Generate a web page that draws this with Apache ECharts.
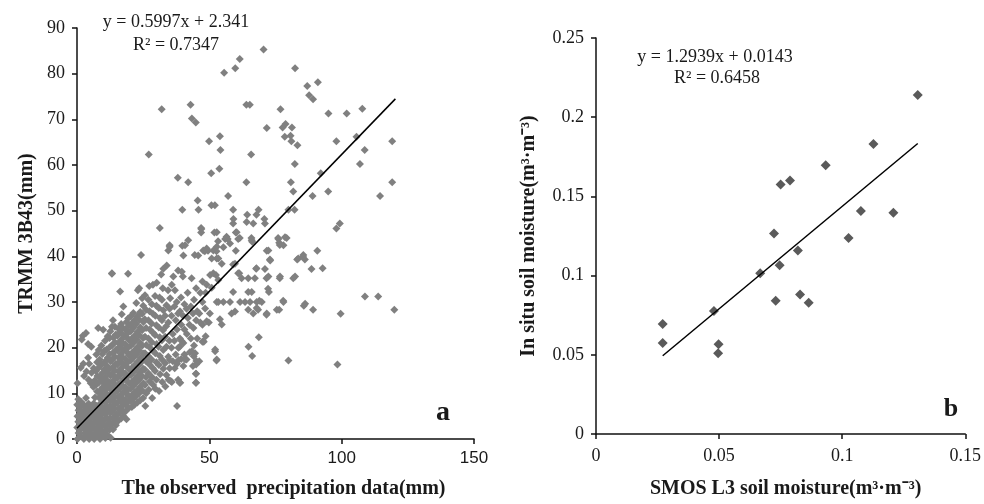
<!DOCTYPE html>
<html><head><meta charset="utf-8">
<script src="https://cdn.jsdelivr.net/npm/echarts@6/dist/echarts.min.js"></script>
<style>html,body{margin:0;padding:0;background:#fff}#c{width:984px;height:504px}</style>
</head><body><div id="c"></div>
<script>
// Panel a: observed precipitation (mm) vs TRMM 3B43 (mm)
const precipDense = [
[0.2,0],[0.6,1.3],[0.1,2.5],[0.5,3.8],[0.2,5],[0.6,6.3],[0.1,7.5],[0.5,8.7],[0.2,12.2],
[1.5,0.6],[1.1,1.9],[1.6,3.1],[1.2,4.4],[1.7,5.6],[1.2,6.9],[1.6,8.1],[1.4,15.6],[1.8,21.8],
[2.6,0],[3,1.3],[2.5,2.5],[2.9,3.8],[2.4,5],[2.9,6.3],[2.5,7.5],[2.7,13.8],[2.4,16.5],[2.2,22.6],
[3.6,0.6],[3.9,1.9],[3.4,3.1],[3.8,4.4],[3.5,5.6],[3.9,6.9],[3.4,9],[3.6,14.8],[3.4,23.2],
[4.6,0],[4.9,1.3],[4.4,2.5],[4.8,3.8],[4.3,5],[4.8,6.3],[4.4,7.7],[4.4,13],[4.6,16.5],[4.2,17.8],[4.2,20.8],
[5.6,0.7],[5.3,2],[5.7,3.2],[5.2,4.5],[5.6,5.8],[5.3,7.1],[5.2,12.2],[5.5,14.5],[5.4,20.2],
[6.5,0],[6.9,1.3],[6.3,2.6],[6.8,3.9],[6.4,5.2],[6.9,6.5],[6.3,7.8],[6.8,9.1],[6.2,11.4],[6.7,12.8],[6.3,15.5],[7.3,18.5],
[7.6,0.6],[7.2,2],[7.7,3.3],[7.3,4.6],[7.8,5.9],[7.4,7.2],[7.6,10.4],[7.2,11.9],[7.7,13.8],[7.2,14.9],[7.6,16.8],
[8.7,0],[8.3,1.3],[8.8,2.6],[8.2,3.9],[8.7,5.2],[8.3,6.5],[8.8,7.8],[8.3,9.1],[8.7,10.6],[8.2,12.3],[8.6,13.7],[8.2,15.6],[8.6,17.4],[8.2,19.5],[8,24.3],
[9.6,0.6],[9.2,2],[9.7,3.3],[9.2,4.6],[9.6,5.9],[9.2,7.2],[9.7,8.5],[9.2,9.9],[9.6,11.3],[9.2,12.9],[9.7,14.5],[9.2,16.3],[9.6,18.6],[9.2,20.5],[9.9,23.9],
[10.7,0.2],[10.3,1.5],[10.8,2.8],[10.3,4.1],[10.7,5.4],[10.3,6.7],[10.8,8],[10.3,9.3],[10.7,10.6],[10.3,12.1],[10.7,13.6],[10.3,15.2],[10.7,17],[10.3,19.3],[10.6,21.5],
[11.6,0.8],[11.2,2.1],[11.7,3.4],[11.2,4.7],[11.6,6],[11.2,7.3],[11.7,8.6],[11.2,9.9],[11.6,11.4],[11.2,12.9],[11.7,14.5],[11.2,16.1],[11.6,17.8],[11.2,19.6],[11.6,22.5],
[12.7,0.3],[12.3,2],[12.8,3.2],[12.3,4.5],[12.7,5.8],[12.3,7.1],[12.8,8.4],[12.3,9.7],[12.7,11],[12.3,12.4],[12.7,13.9],[12.3,15.4],[12.7,17],[12.3,18.6],[12.7,20.3],[12.3,22.1],[12.6,23.6],
[13.6,2.1],[13.2,3.4],[13.7,4.7],[13.2,6],[13.6,7.3],[13.2,8.6],[13.7,9.9],[13.2,11.3],[13.6,12.7],[13.2,14.2],[13.7,15.8],[13.2,17.3],[13.6,18.9],[13.2,20.5],[13.7,22.2],[13.2,24.6],[13.6,26],[13.2,36.2],
[14.7,3],[14.3,4.2],[14.8,5.4],[14.3,6.7],[14.7,8],[14.3,9.3],[14.8,10.6],[14.3,12],[14.7,13.5],[14.3,15],[14.7,16.5],[14.3,18],[14.8,19.6],[14.3,21.2],[14.7,22.9],[14.3,24.6],
[15.6,4],[15.2,5.3],[15.7,6.6],[15.2,7.9],[15.6,9.2],[15.2,10.5],[15.7,11.9],[15.2,13.3],[15.6,14.8],[15.2,16.3],[15.7,17.8],[15.2,19.4],[15.6,21],[15.2,22.6],[15.6,24.2],
[16.7,4.5],[16.3,5.8],[16.8,7.1],[16.3,8.4],[16.7,9.7],[16.3,11.1],[16.8,12.5],[16.3,14],[16.7,15.5],[16.3,17],[16.7,18.6],[16.3,20.2],[16.8,21.8],[16.3,23.4],[16.7,25.2],[16.9,27.3],[16.3,32.3],
[17.6,5],[17.2,6.3],[17.7,7.6],[17.2,8.9],[17.6,10.3],[17.2,11.7],[17.7,13.2],[17.2,14.7],[17.6,16.3],[17.2,17.9],[17.7,19.5],[17.2,21.1],[17.6,22.7],[17.2,24.4],[17.5,29],
[18.7,4.3],[18.3,6],[18.8,7.3],[18.3,8.6],[18.7,9.9],[18.3,11.3],[18.8,12.8],[18.3,14.3],[18.7,15.9],[18.3,17.5],[18.8,19.1],[18.3,20.7],[18.7,22.3],[18.3,24],[18.7,25.6],
[19.6,6.8],[19.2,8.1],[19.7,9.4],[19.2,10.8],[19.6,12.2],[19.2,13.7],[19.7,15.2],[19.2,16.8],[19.6,18.4],[19.2,20],[19.7,21.6],[19.2,23.2],[19.6,24.8],[19.3,36.2],[19.3,26.4],
[20.7,7],[20.3,8.3],[20.8,9.6],[20.3,11],[20.7,12.5],[20.3,14],[20.8,15.6],[20.3,17.2],[20.7,18.8],[20.3,20.4],[20.7,22],[20.3,23.6],[20.7,25.3],[20.3,26.9],
[21.7,7.5],[21.3,8.8],[21.8,10.2],[21.3,11.6],[21.7,13.1],[21.3,14.6],[21.8,16.2],[21.3,17.8],[21.7,19.4],[21.3,21],[21.8,22.6],[21.3,24.3],[21.7,26],[21.3,27.6],
[22.8,8],[22.4,9.4],[22.9,10.8],[22.4,12.3],[22.8,13.8],[22.4,15.3],[22.9,16.9],[22.4,18.5],[22.8,20.1],[22.4,21.8],[22.9,23.5],[22.4,25.2],[22.8,26.9],[23,32.6],[22.4,29.8],
[23.9,8.5],[23.5,10],[24,11.5],[23.5,13],[23.9,14.6],[23.5,16.2],[24,17.8],[23.5,19.4],[23.9,21],[23.5,22.7],[24,24.4],[23.5,26.1],[23.9,27.8],[23.5,33],[24.2,40.3],
[25,9],[24.6,10.6],[25.1,12.2],[24.6,13.8],[25,15.4],[24.6,17],[25.1,18.7],[24.6,20.4],[25,22.1],[24.6,23.8],[25.1,25.6],[24.6,27.4],[25,29.2],[24.6,30.8],
[25.8,7.2],[26.2,10],[25.7,11.8],[26.1,13.5],[25.6,15.2],[26.1,17],[25.7,18.8],[26.2,20.6],[25.7,22.4],[26.1,24.3],[25.6,26.2],[26.1,28.3],[25.7,31.5],
[27.1,10.8],[27.5,12.6],[27,14.4],[27.4,16.3],[26.9,18.2],[27.4,20.1],[27,22],[27.5,24],[27,26],[27.4,28],[27,30.5],[27.3,33.5],
[28.4,9],[28.8,11.8],[28.3,13.6],[28.7,15.5],[28.2,17.4],[28.7,19.3],[28.3,21.2],[28.8,23.2],[28.2,25.3],[28.7,27.4],[28.3,29.5],[28.7,33.8],
[29.6,11],[30,13],[29.5,14.9],[30,16.8],[29.6,18.8],[30.1,20.8],[29.5,22.8],[30,24.9],[29.6,27],[30,29.2],[29.5,31.3],[30.1,34.2],
[31,10.5],[31.4,14.2],[30.9,16.2],[31.3,18.2],[30.8,20.2],[31.3,22.3],[30.9,24.4],[31.4,26.5],[30.9,28.7],[31.2,31],[31.3,46.2],
[32.2,12.5],[32.6,15.4],[32.1,17.4],[32.6,19.5],[32.1,21.6],[32.5,23.8],[32.1,26],[32.6,28.2],[32.1,30.5],[32.4,33],[31.8,36],
[33.4,11.5],[33.8,14],[33.3,16.6],[33.8,20.2],[33.3,22.4],[33.7,24.7],[33.3,27],[33.8,29.3],[32.6,37.3],[33.9,38],
[34.6,13],[35,15.5],[34.5,18],[34.9,21.5],[34.5,25.5],[35,28.5],[34.4,32.6],[34.5,41.3],[35,42.4],[35.2,30.8],
[35.8,12.5],[36.2,17],[35.7,20],[36.2,23],[35.7,27],[35.8,33.8],[36.4,35.6],
[36.9,15.5],[37.3,18.5],[36.8,21.5],[37.3,26],[36.8,29],[37,32.6],[38.2,36.9],
[37.8,7.2],[38.2,13],[37.8,16.5],[38.3,20],[37.8,24],[38.2,27.5],[37.7,30],
[39,12.3],[39.4,17.5],[38.9,22],[39.4,25],[38.9,28],[39.3,31],[39.6,36.6],[40,35.6],
[40.2,16],[40.6,18.5],[40.2,21],[40.6,24],[40.1,27],[40.6,29.5],[40.2,40.2],[40.8,42.4],[42,43.5],
[41.4,17.4],[40.8,17.4],[41.5,23],[41.9,26.5],[41.4,28.5],[41.8,32],
[42.6,19],[43,22],[42.5,25],[43,29],[43.3,35.2],
[43.8,16],[44.2,20.5],[44,24.3],[43.8,27.5],[44.2,30.5],
[45,12.3],[45,14.3],[45,16.3],[44.6,18.8],[45.4,22],[45,26],[45.4,28],[45,33],
[46.2,17],[46.6,25.5],[46.2,27.5],[46.6,32],[45.8,40.2],
[47.4,21.3],[47.7,21.4],[47.4,25],[48.4,28.6],[47.4,30],[47.4,34.5],[47.7,41.3],[47,46],
[48.6,22.5],[49,25.8],[48.6,32],[49,41.7],[49,33.8],
[49.8,25.5],[50.2,27.5],[50.3,35.9],[50.9,33.1],[50.9,39.5],[51.5,41.3],[51.5,36.3]
];
const precipSparse = [
[27.1,62.3],[32,72.2],[42.9,73.2],[43.4,70.2],[44.9,69.3],[55.6,80.2],[59.8,81.2],[61.5,83.2],[70.5,85.3],
[64,73.2],[65.3,73.2],[82.4,81.2],[87,77.3],[91,78.1],[87.7,75.3],[89.2,74.4],[95,71.3],[101.9,71.3],[107.8,72.3],
[76.9,72.2],[71.7,68.1],[77.7,68.2],[78.8,69],[81.2,68.2],[78.5,66.2],[80.7,66.4],[81,65.2],[83.3,64.3],
[98,65.2],[105.6,66.2],[119.1,65.2],[108.7,63.3],[106.9,60.2],[82.3,60.2],[92.1,58.2],[49.9,65.2],[54,66.3],
[54.2,63.3],[50.7,58.2],[53.8,59.2],[65.8,62.3],[38.1,57.2],[42,56.2],[64,56.2],[80.8,56.2],[81.7,54.2],
[94.9,54.2],[89,53.2],[114.5,53.2],[119.1,56.2],[57.1,53.2],[45.6,52.2],[39.8,50.2],[45.9,50.2],[50.8,51.2],
[52.1,51.2],[59,50.2],[64.3,49.1],[67.8,49.1],[68.6,50.2],[70.8,48.2],[59.1,48.2],[79.9,50.2],[82.2,50.2],
[46.9,46.2],[46.9,45.2],[51.9,45.2],[60,45.2],[61.5,44],[56.5,44.3],[56.9,43.8],[53.3,43.3],
[65.9,44],[66.2,43.2],[76,44],[79.2,44],[76.4,43],[76.6,42.5],[98,46.1],[99.3,47.2],[35,42.1],[39.8,42.3],
[44.5,40.3],[48.3,41.1],[49.5,41.2],[52.7,41.1],[60,41.2],[71.7,41.2],[90.8,41.2],[85.5,40.3],[86.1,39.3],
[83.2,39.3],[72.9,39.3],[13.2,36.3],[92.8,37.4],[88.6,37.2],[81.7,35.2],[67.8,37.4],[71,37.2],[76.6,35.2],
[71.6,35.2],[64.7,35.2],[59,38.2],[61.3,36.3],[77.9,30.3],[76.4,28.3],[85.7,29.2],[89.2,28.3],[71.6,27.2],
[72.2,32.9],[72.5,32.2],[99.6,27.4],[108.8,31.2],[113.8,31.2],[119.9,28.3],[68.4,28.3],[68.9,30.3],[64.8,20.2],[66.2,18.2],
[68.7,22.3],[79.9,17.2],[98.4,16.3],[52.2,19.2],[52.7,17.2],[44.9,14.3],[44.9,12.3],[38.8,12.3],
[47.9,21.3],[43.4,19.2],[44.1,18.1],[45.1,17.1],[38.4,17.3],[35,17.3],[35.4,12.7],[38.8,20.2],[39.6,21.4],
[52.8,30],[52.8,45.3],[52.8,42.1],[52.8,39.5],[53.4,34.8],[52.2,19.6],[52.8,17.4],
[59,47.2],[64.1,47.5],[66.6,47.2],[71,47.2],[60.3,45.3],[60.9,43.8],[56,43.8],[57.8,42.8],[55.3,42],[66,43.5],
[76.1,43.8],[78.6,44.2],[78,42.4],[72.3,41.3],[73,39.1],[53.4,39.5],[54.7,38.4],[59.7,38.4],[67.7,37.3],
[60.9,36.3],[62.2,35.2],[67.2,35.2],[72.3,35.6],[76.7,35.6],[82.4,35.6],[83.6,39.5],[85.4,39.9],[52.5,35.9],
[59,32.2],[64.7,32.2],[66,32.2],[53.4,30],[55.3,30],[57.8,30],[61.6,30],[63.5,30],[65.4,30],[67.9,30],[69.8,30],
[78,30],[86.2,29.6],[58.4,27.5],[59.7,27.9],[64.7,28.3],[66.6,27.5],[67.9,28.7],[71.7,27.5],[75.5,28.3],[54,26.2],[54.7,25.1]
];
const trendA = [[0, 2.341], [120.3, 74.48]];
const equationA = ['y = 0.5997x + 2.341', 'R² = 0.7347'];

// Panel b: SMOS L3 soil moisture vs in situ soil moisture (m3/m3)
const smosX = [0.0271,0.0271,0.0479,0.0498,0.0496,0.0667,0.0723,0.073,0.0746,0.075,0.0788,0.082,0.0829,0.0864,0.0933,0.1026,0.1076,0.1127,0.1208,0.1307];
const inSituY = [0.0694,0.0575,0.0777,0.0567,0.051,0.1015,0.1265,0.0842,0.1065,0.1575,0.16,0.1158,0.0881,0.0829,0.1696,0.1238,0.1408,0.1831,0.1396,0.214];
const trendB = [[0.0271, 0.0494], [0.1307, 0.1834]];
const equationB = ['y = 1.2939x + 0.0143', 'R² = 0.6458'];

const xTicksA = [0, 50, 100, 150];
const yTicksA = [0, 10, 20, 30, 40, 50, 60, 70, 80, 90];
const xTicksB = [0, 0.05, 0.1, 0.15];
const yTicksB = [0, 0.05, 0.1, 0.15, 0.2, 0.25];

const serif = "'Liberation Serif','Times New Roman',serif";
const sans = "'Liberation Sans',Arial,sans-serif";
const txt = '#1a1a1a';

function axisCommon(extra) {
  return Object.assign({
    type: 'value',
    splitLine: { show: false },
    axisLine: { show: true, lineStyle: { color: '#111', width: 1.5 } },
    axisTick: { show: true, inside: false, length: 5, lineStyle: { color: '#111', width: 1.5 } },
    nameLocation: 'middle'
  }, extra);
}
const fmt = v => String(+v.toFixed(2));

const chart = echarts.init(document.getElementById('c'), null, { renderer: 'canvas' });
chart.setOption({
  animation: false,
  backgroundColor: '#fff',
  grid: [
    { left: 77, top: 28, width: 397, height: 414 },
    { left: 596, top: 38, width: 371, height: 400 }
  ],
  xAxis: [
    axisCommon({ gridIndex: 0, min: xTicksA[0], max: xTicksA[xTicksA.length - 1], interval: 50,
      axisLabel: { fontFamily: sans, fontSize: 17, color: txt, margin: 11 },
      name: 'The observed  precipitation data(mm)', nameGap: 40,
      nameTextStyle: { fontFamily: serif, fontSize: 20, fontWeight: 'bold', color: txt, padding: [0, 0, 0, 16] } }),
    axisCommon({ gridIndex: 1, min: xTicksB[0], max: xTicksB[xTicksB.length - 1], interval: 0.05,
      axisLabel: { fontFamily: serif, fontSize: 18, color: txt, margin: 13, formatter: fmt },
      name: 'SMOS L3 soil moisture(m³·m⁻³)', nameGap: 45,
      nameTextStyle: { fontFamily: serif, fontSize: 20, fontWeight: 'bold', color: txt, padding: [0, 0, 0, 10] } })
  ],
  yAxis: [
    axisCommon({ gridIndex: 0, min: yTicksA[0], max: yTicksA[yTicksA.length - 1], interval: 10,
      axisLabel: { fontFamily: serif, fontSize: 18, color: txt, margin: 12 },
      name: 'TRMM 3B43(mm)', nameGap: 40,
      nameTextStyle: { fontFamily: serif, fontSize: 20, fontWeight: 'bold', color: txt } }),
    axisCommon({ gridIndex: 1, min: yTicksB[0], max: yTicksB[yTicksB.length - 1], interval: 0.05,
      axisLabel: { fontFamily: serif, fontSize: 18, color: txt, margin: 12, formatter: fmt },
      name: 'In situ soil moisture(m³·m⁻³)', nameGap: 57,
      nameTextStyle: { fontFamily: serif, fontSize: 20, fontWeight: 'bold', color: txt } })
  ],
  series: [
    { type: 'scatter', xAxisIndex: 0, yAxisIndex: 0, symbol: 'diamond', symbolSize: 8,
      itemStyle: { color: '#808080', opacity: 1 }, data: precipDense.concat(precipSparse), z: 2 },
    { type: 'line', xAxisIndex: 0, yAxisIndex: 0, data: trendA, symbol: 'none',
      lineStyle: { color: '#000', width: 1.5 }, z: 5 },
    { type: 'scatter', xAxisIndex: 1, yAxisIndex: 1, symbol: 'diamond', symbolSize: 10,
      itemStyle: { color: '#5a5a5a', opacity: 1 }, data: smosX.map((x, i) => [x, inSituY[i]]), z: 2 },
    { type: 'line', xAxisIndex: 1, yAxisIndex: 1, data: trendB, symbol: 'none',
      lineStyle: { color: '#000', width: 1.5 }, z: 5 }
  ],
  graphic: [
    { type: 'text', style: { text: equationA[0], x: 176, y: 22, align: 'center', verticalAlign: 'middle', fontFamily: serif, fontSize: 18, fill: txt } },
    { type: 'text', style: { text: equationA[1], x: 176, y: 45, align: 'center', verticalAlign: 'middle', fontFamily: serif, fontSize: 18, fill: txt } },
    { type: 'text', style: { text: equationB[0], x: 715, y: 57, align: 'center', verticalAlign: 'middle', fontFamily: serif, fontSize: 18, fill: txt } },
    { type: 'text', style: { text: equationB[1], x: 717, y: 78, align: 'center', verticalAlign: 'middle', fontFamily: serif, fontSize: 18, fill: txt } },
    { type: 'text', style: { text: 'a', x: 443, y: 413, align: 'center', verticalAlign: 'middle', fontFamily: serif, fontSize: 28, fontWeight: 'bold', fill: txt } },
    { type: 'text', style: { text: 'b', x: 951, y: 409, align: 'center', verticalAlign: 'middle', fontFamily: serif, fontSize: 26, fontWeight: 'bold', fill: txt } }
  ]
});
</script></body></html>
